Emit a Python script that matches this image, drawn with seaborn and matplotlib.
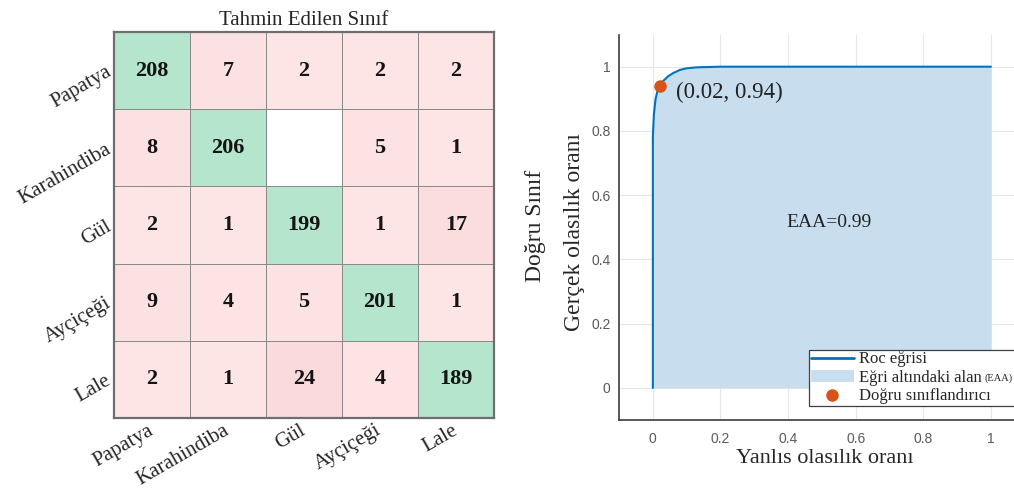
import numpy as np
import pandas as pd
import matplotlib
matplotlib.use("Agg")
import matplotlib.pyplot as plt
import seaborn as sns
from matplotlib.colors import ListedColormap, LinearSegmentedColormap
from matplotlib.lines import Line2D
from matplotlib.patches import Patch

# ---- confusion matrix data ----
classes = ["Papatya", "Karahindiba", "Gül", "Ayçiçeği", "Lale"]
row_papatya = [208, 7, 2, 2, 2]
row_karahindiba = [8, 206, 0, 5, 1]
row_gul = [2, 1, 199, 1, 17]
row_aycicegi = [9, 4, 5, 201, 1]
row_lale = [2, 1, 24, 4, 189]

# ---- ROC curve data ----
fpr = [0.0, 0.0, 0.003, 0.008, 0.014, 0.02, 0.03, 0.045, 0.06, 0.08, 0.10, 0.13, 0.20, 1.0]
tpr = [0.0, 0.78, 0.85, 0.90, 0.925, 0.94, 0.955, 0.97, 0.98, 0.99, 0.995, 0.998, 1.0, 1.0]
op_fpr, op_tpr = 0.02, 0.94
auc_value = 0.99

SERIF = ["Liberation Serif", "DejaVu Serif"]
SANS = ["Liberation Sans", "DejaVu Sans"]

sns.set_style("white")
plt.rcParams["font.family"] = SERIF

cm = pd.DataFrame([row_papatya, row_karahindiba, row_gul, row_aycicegi, row_lale],
                  index=classes, columns=classes)
diag = np.eye(len(classes), dtype=bool)
zero = cm.values == 0

fig = plt.figure(figsize=(10.14, 4.94), dpi=100)

# ---------------- confusion matrix ----------------
ax1 = fig.add_axes([0.1124, 0.1538, 0.3748, 0.7814])
annot_kws = dict(fontsize=16, fontweight="bold", family=SERIF, color="#141414")
grid_kws = dict(linewidths=0.5, linecolor="#8a8a8a", cbar=False, square=False)

sns.heatmap(cm, mask=~diag, cmap=ListedColormap(["#b5e5cc"]), annot=True, fmt="d",
            annot_kws=annot_kws, ax=ax1, **grid_kws)
pink = LinearSegmentedColormap.from_list("pink", ["#fde4e5", "#fbdadb"])
sns.heatmap(cm, mask=diag | zero, cmap=pink, vmin=1, vmax=24, annot=True, fmt="d",
            annot_kws=annot_kws, ax=ax1, **grid_kws)

for s in ax1.spines.values():
    s.set_visible(True)
    s.set_color("#6e6e6e")
    s.set_linewidth(1.6)

ax1.set_xlabel("")
ax1.set_ylabel("")
ax1.set_title("Tahmin Edilen Sınıf", fontsize=15, pad=5, family=SERIF)
ax1.tick_params(length=0)
ax1.set_xticks(np.arange(len(classes)) + 0.5)
ax1.set_yticks(np.arange(len(classes)) + 0.5)
ax1.set_xticklabels(classes, rotation=30, ha="right", va="center",
                    rotation_mode="anchor", fontsize=15, family=SERIF)
ax1.set_yticklabels(classes, rotation=30, ha="right", va="center",
                    rotation_mode="anchor", fontsize=15, family=SERIF)
ax1.tick_params(axis="x", pad=8)
ax1.tick_params(axis="y", pad=3)

fig.text(535 / 1014, 1 - 226 / 494, "Doğru Sınıf", rotation=90, ha="center",
         va="center", fontsize=17, family=SERIF)

# ---------------- ROC curve ----------------
ax2 = fig.add_axes([0.6105, 0.1498, 0.4, 0.7802])
ax2.set_xlim(-0.1, 1.1)
ax2.set_ylim(-0.1, 1.1)
ax2.grid(True, color="#e6e6e6", linewidth=0.8, zorder=0)
ax2.set_axisbelow(True)

fill_color = "#c8deee"
line_color = "#0072BD"
dot_color = "#D95319"

ax2.fill_between(fpr, tpr, 0, color=fill_color, linewidth=0, zorder=1)
sns.lineplot(x=fpr, y=tpr, estimator=None, sort=False, color=line_color,
             linewidth=1.5, ax=ax2, zorder=2)
ax2.plot([op_fpr], [op_tpr], "o", color=dot_color, markersize=8, zorder=3)
ax2.annotate(f"({op_fpr:.2f}, {op_tpr:.2f})", xy=(op_fpr, op_tpr),
             xytext=(12, -5), textcoords="offset points", ha="left", va="center",
             fontsize=16.5, family=SERIF, color="#222222")
ax2.text(0.52, 0.515, f"EAA={auc_value:.2f}", ha="center", va="center",
         fontsize=14, family=SERIF, color="#222222")

ticks = [0, 0.2, 0.4, 0.6, 0.8, 1]
ax2.set_xticks(ticks)
ax2.set_yticks(ticks)
ax2.set_xticklabels(["0", "0.2", "0.4", "0.6", "0.8", "1"])
ax2.set_yticklabels(["0", "0.2", "0.4", "0.6", "0.8", "1"])
for lab in ax2.get_xticklabels() + ax2.get_yticklabels():
    lab.set_family(SANS)
    lab.set_fontsize(10)
    lab.set_color("#5a5a5a")
ax2.tick_params(axis="both", direction="in", length=4, width=0.8, color="#555555")
ax2.tick_params(axis="x", pad=9)
ax2.tick_params(axis="y", pad=6)

for side in ["top", "right"]:
    ax2.spines[side].set_visible(False)
for side in ["left", "bottom"]:
    ax2.spines[side].set_color("#3c3c3c")
    ax2.spines[side].set_linewidth(1.2)

ax2.set_xlabel("Yanlıs olasılık oranı", fontsize=16, family=SERIF)
ax2.set_ylabel("Gerçek olasılık oranı", fontsize=17, family=SERIF)
ax2.xaxis.set_label_coords(0.508, -0.075)
ax2.yaxis.set_label_coords(-0.085, 0.487)

handles = [
    Line2D([], [], color=line_color, linewidth=2),
    Patch(facecolor=fill_color, edgecolor="none"),
    Line2D([], [], color=dot_color, marker="o", markersize=8, linestyle="none"),
]
labels = ["Roc eğrisi", "Eğri altındaki alan", "Doğru sınıflandırıcı"]
leg = fig.legend(handles, labels, loc="lower left",
                 bbox_to_anchor=(809 / 1014, 88 / 494, 230 / 1014, 57 / 494),
                 mode="expand", prop=dict(family=SERIF, size=12),
                 frameon=True, fancybox=False, framealpha=1, edgecolor="#404040",
                 borderpad=0.1, labelspacing=0.15, handlelength=2.6,
                 handletextpad=0.3, borderaxespad=0)
leg.get_frame().set_linewidth(0.9)

# smaller abbreviation after the area label
fig.canvas.draw()
renderer = fig.canvas.get_renderer()
area_text = leg.get_texts()[1]
bb = area_text.get_window_extent(renderer)
fig.text((bb.x1 + 3) / fig.bbox.width, (bb.y0 + bb.y1) / 2 / fig.bbox.height, "(EAA)",
         fontsize=7.5, family=SERIF, ha="left", va="center", color="#222222",
         zorder=10)

fig.savefig("out.png", dpi=100)
